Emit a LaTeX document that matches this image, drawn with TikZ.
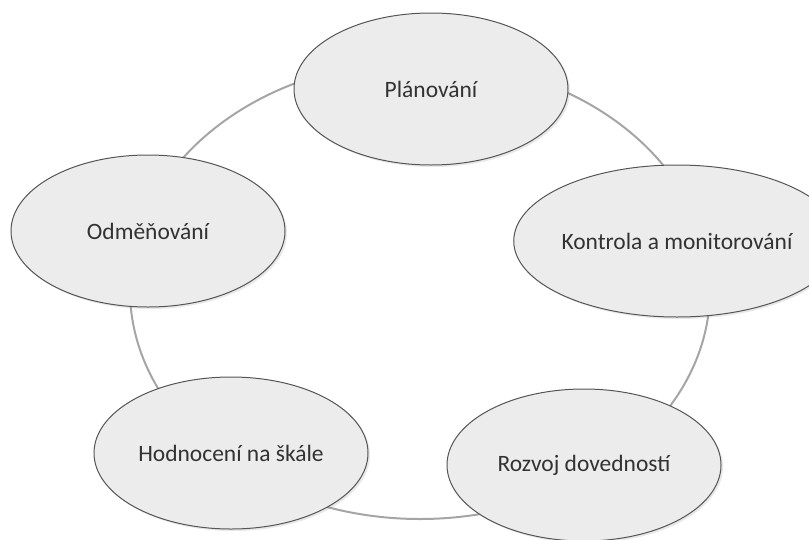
\documentclass[tikz,border=0pt]{standalone}
\definecolor{ringgray}{RGB}{165, 165, 165}
\definecolor{stagefill}{RGB}{236, 236, 236}
\definecolor{stageline}{RGB}{85, 85, 85}
\definecolor{stagetext}{RGB}{50, 50, 50}
\usepackage{fontspec}
\setmainfont{Carlito}
\usepackage{tikz}
\usetikzlibrary{shapes.geometric,shadows}
\tikzset{every picture/.style={line width=0.75pt}}
\tikzset{stage/.style={ellipse, draw=stageline, fill=stagefill, line width=0.75pt,
  minimum width=205.5pt, minimum height=114pt, inner sep=0pt, text=stagetext,
  font=\fontsize{17.6}{20}\selectfont,
  drop shadow={opacity=0.18, shadow xshift=1.5pt, shadow yshift=-1.5pt}}}

\begin{document}
\begin{tikzpicture}[x=0.75pt,y=0.75pt,yscale=-1,xscale=1]
\useasboundingbox (0,0) rectangle (809,539);
\clip (0,0) rectangle (809,539);

%Shape: Ellipse [ring]
\draw [color=ringgray, line width=1.5pt] (420,290) ellipse [x radius=290, y radius=229];

%Shape: Ellipse [plan]
\node [stage] (plan) at (431,89) {Plánování};
%Shape: Ellipse [kontrola]
\node [stage] (kontrola) at (677,241) {Kontrola a monitorování};
%Shape: Ellipse [rozvoj]
\node [stage] (rozvoj) at (584,465) {Rozvoj dovedností};
%Shape: Ellipse [hodnoceni]
\node [stage] (hodnoceni) at (231,453) {Hodnocení na škále};
%Shape: Ellipse [odmena]
\node [stage] (odmena) at (148,231) {Odměňování};

\end{tikzpicture}
\end{document}
